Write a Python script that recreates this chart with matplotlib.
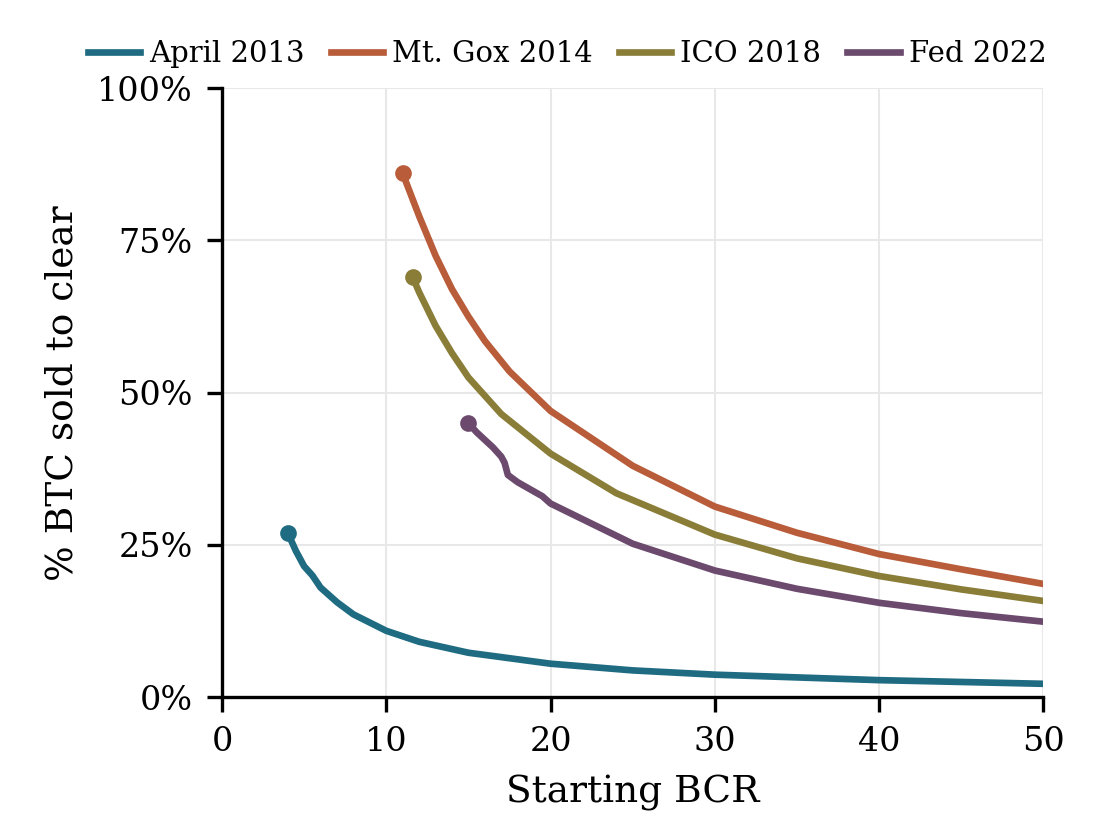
import matplotlib.pyplot as plt
from matplotlib.ticker import PercentFormatter

plt.rc('font', family='DejaVu Serif', size=8)

apr_x = [4, 4.5, 5, 5.5, 6, 7, 8, 10, 12, 15, 20, 25, 30, 40, 50]
apr_y = [27, 24, 21.5, 20, 18, 15.6, 13.6, 10.9, 9.1, 7.3, 5.5, 4.4, 3.7, 2.8, 2.2]
gox_x = [11, 12, 13, 14, 15, 16, 17.5, 20, 25, 30, 35, 40, 45, 50]
gox_y = [86, 79, 72.5, 67, 62.5, 58.5, 53.5, 47, 38, 31.3, 27, 23.5, 21, 18.6]
ico_x = [11.6, 12, 13, 14, 15, 17, 20, 24, 30, 35, 40, 45, 50]
ico_y = [69, 66.5, 61, 56.5, 52.5, 46.5, 40, 33.5, 26.7, 22.8, 19.9, 17.7, 15.8]
fed_x = [15, 15.5, 16.5, 17, 17.2, 17.4, 18, 19.5, 20, 25, 30, 35, 40, 45, 50]
fed_y = [45, 43.5, 41, 39.5, 38.5, 36.5, 35.3, 33, 31.8, 25.2, 20.8, 17.8, 15.5, 13.8, 12.4]

series = [("April 2013", apr_x, apr_y, "#1f6b82"),
          ("Mt. Gox 2014", gox_x, gox_y, "#b85c3a"),
          ("ICO 2018", ico_x, ico_y, "#8a7d38"),
          ("Fed 2022", fed_x, fed_y, "#6b4a6e")]

fig, ax = plt.subplots(figsize=(3.7, 2.8), dpi=300)
for name, x, y, c in series:
    ax.plot(x, y, color=c, lw=1.6, label=name)
    ax.plot(x[0], y[0], 'o', color=c, ms=3)

ax.set_xlim(0, 50)
ax.set_ylim(0, 100)
ax.set_yticks([0, 25, 50, 75, 100])
ax.yaxis.set_major_formatter(PercentFormatter(decimals=0))
ax.grid(color='#e8e8e8', lw=0.5)
ax.spines['top'].set_visible(False)
ax.spines['right'].set_visible(False)
ax.set_xlabel("Starting BCR", fontsize=9)
ax.set_ylabel("% BTC sold to clear", fontsize=9)
ax.legend(loc='lower center', bbox_to_anchor=(0.42, 0.99), ncol=4, frameon=False,
          fontsize=7, handlelength=1.8, handletextpad=0.3, columnspacing=0.9)
fig.subplots_adjust(left=0.2, right=0.94, top=0.895, bottom=0.17)
fig.savefig("out.png", dpi=300)
